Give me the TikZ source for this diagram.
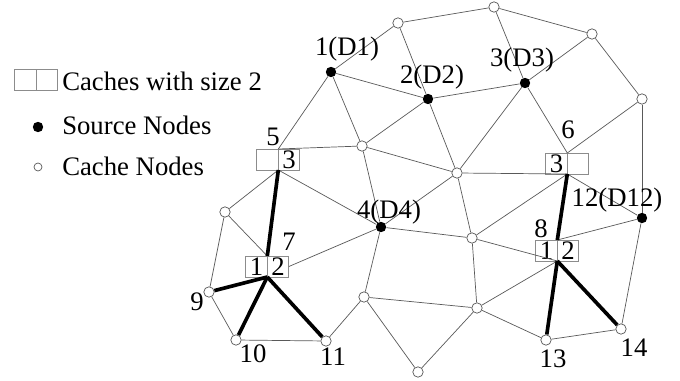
\documentclass[tikz,border=0pt]{standalone}
\usepackage{fontspec}
\setmainfont{Liberation Serif}
\usetikzlibrary{positioning}
\colorlet{edgeColor}{black!65}
\colorlet{boxColor}{black!45}
\tikzset{
  link/.style={edgeColor, line width=0.5pt},
  route/.style={black, line width=2.6pt},
  srcnode/.style={circle, fill=black, inner sep=0pt, minimum size=0.26cm},
  cachenode/.style={circle, draw=edgeColor, line width=0.5pt, fill=white, inner sep=0pt, minimum size=0.26cm},
  cell/.style={rectangle, draw=boxColor, line width=0.6pt, inner sep=0pt, outer sep=0pt,
    minimum width=0.54cm, minimum height=0.525cm},
  lbl/.style={inner sep=0pt}
}

\begin{document}
\begin{tikzpicture}[x=0.025cm, y=-0.025cm, font=\fontsize{19}{22}\selectfont]
\useasboundingbox (0,0) rectangle (680,381);

% legend
\node[cell] (k1) at (25.5,79.5) {};
\node[cell, right=0pt of k1] (k2) {};
\node[lbl, anchor=west] (ktext1) at (62,81) {Caches with size 2};
\node[srcnode] (ksrc) at (38,127) {};
\node[lbl, anchor=west] (ktext2) at (62,125) {Source Nodes};
\node[cachenode, minimum size=0.2cm] (kcache) at (38,167) {};
\node[lbl, anchor=west] (ktext3) at (62,166) {Cache Nodes};

% source nodes
\node[srcnode] (n1) at (331,72) {};
\node[srcnode] (n2) at (428,99) {};
\node[srcnode] (n3) at (525,83) {};
\node[srcnode] (n4) at (381,227) {};
\node[srcnode] (n12) at (642,218) {};

% cache nodes
\node[cachenode] (va) at (398,23) {};
\node[cachenode] (vb) at (494,7) {};
\node[cachenode] (vc) at (592,34) {};
\node[cachenode] (vd) at (642,99) {};
\node[cachenode] (ve) at (362,146) {};
\node[cachenode] (vf) at (457,173) {};
\node[cachenode] (vg) at (472,238) {};
\node[cachenode] (vh) at (225,212) {};
\node[cachenode] (vi) at (364,297) {};
\node[cachenode] (vj) at (418,372) {};
\node[cachenode] (vk) at (477,308) {};
\node[cachenode] (v9) at (209,292) {};
\node[cachenode] (v10) at (236,340) {};
\node[cachenode] (v11) at (326,341) {};
\node[cachenode] (v13) at (546,340) {};
\node[cachenode] (v14) at (621,329) {};

% caches
\node[cell] (v5l) at (267.5,159.5) {};
\node[cell, right=0pt of v5l] (v5r) {3};
\node[cell] (v6l) at (556.5,163.5) {3};
\node[cell, right=0pt of v6l] (v6r) {};
\node[cell] (v7l) at (256.5,266.5) {1};
\node[cell, right=0pt of v7l] (v7r) {2};
\node[cell] (v8l) at (546.5,250.5) {1};
\node[cell, right=0pt of v8l] (v8r) {2};

% links
\draw[link] (n1) -- (va);
\draw[link] (n1) -- (n2);
\draw[link] (n1) -- (v5l.north east);
\draw[link] (n1) -- (ve);
\draw[link] (va) -- (vb);
\draw[link] (va) -- (n2);
\draw[link] (vb) -- (vc);
\draw[link] (vb) -- (n3);
\draw[link] (vc) -- (vd);
\draw[link] (vc) -- (n3);
\draw[link] (vd) -- (v6l.north east);
\draw[link] (vd) -- (n12);
\draw[link] (n2) -- (n3);
\draw[link] (n2) -- (ve);
\draw[link] (n2) -- (vf);
\draw[link] (n3) -- (vf);
\draw[link] (n3) -- (v6l.north east);
\draw[link] (ve) -- (v5l.north east);
\draw[link] (ve) -- (vf);
\draw[link] (ve) -- (n4);
\draw[link] (vf) -- (v6l.south east);
\draw[link] (vf) -- (n4);
\draw[link] (vf) -- (vg);
\draw[link] (v5l.south east) -- (vh);
\draw[link] (v5l.south east) -- (n4);
\draw[link] (vh) -- (v7l.north east);
\draw[link] (vh) -- (v9);
\draw[link] (v9) -- (v10);
\draw[link] (v10) -- (v11);
\draw[link] (v11) -- (vi);
\draw[link] (v7r.east) -- (n4);
\draw[link] (n4) -- (vi);
\draw[link] (n4) -- (vg);
\draw[link] (vi) -- (vj);
\draw[link] (vi) -- (vk);
\draw[link] (vj) -- (vk);
\draw[link] (vg) -- (vk);
\draw[link] (vg) -- (v8l.south east);
\draw[link] (vg) -- (v6l.south east);
\draw[link] (vk) -- (v8l.south east);
\draw[link] (vk) -- (v13);
\draw[link] (v13) -- (v14);
\draw[link] (v14) -- (n12);
\draw[link] (n12) -- (v8l.north east);
\draw[link] (n12) -- (v6l.south east);

% routes
\draw[route] (v5l.south east) -- (v7l.north east);
\draw[route] (v7l.south east) -- (v9);
\draw[route] (v7l.south east) -- (v10);
\draw[route] (v7l.south east) -- (v11);
\draw[route] (v6l.south east) -- (v8l.north east);
\draw[route] (v8l.south east) -- (v13);
\draw[route] (v8l.south east) -- (v14);

% labels
\node[lbl] (l1) at (347,49) {1(D1)};
\node[lbl] (l2) at (432,77) {2(D2)};
\node[lbl] (l3) at (522,60) {3(D3)};
\node[lbl] (l4) at (389,212) {4(D4)};
\node[lbl] (l12) at (617,200) {12(D12)};
\node[lbl] (l5) at (273,137) {5};
\node[lbl] (l6) at (568,130) {6};
\node[lbl] (l7) at (289,242) {7};
\node[lbl] (l8) at (541,229) {8};
\node[lbl] (l9) at (197,302) {9};
\node[lbl] (l10) at (253,354) {10};
\node[lbl] (l11) at (333,357) {11};
\node[lbl] (l13) at (553,359) {13};
\node[lbl] (l14) at (634,348) {14};
\end{tikzpicture}
\end{document}
